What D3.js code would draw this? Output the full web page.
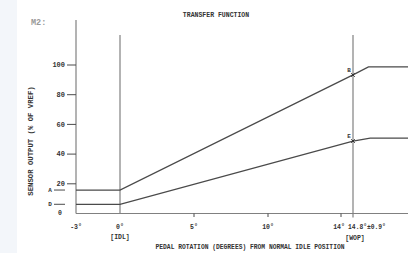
<!DOCTYPE html>
<html><head><meta charset="utf-8">
<script src="https://cdn.jsdelivr.net/npm/d3@7"></script>
<style>
html,body{margin:0;padding:0;background:#fff;}
svg{display:block;}
text{font-family:"Liberation Mono","DejaVu Sans Mono",monospace;fill:#333;}
</style></head>
<body>
<script>
// ---- data ----
const xTickValues = [-3, 0, 5, 10, 14];
const xTickLabels = ["-3°", "0°", "5°", "10°", "14°"];
const yTickValues = [20, 40, 60, 80, 100];
const yTickLabels = ["20", "40", "60", "80", "100"];
const wopAngle = 14.8;
const upperX = [-3, 0, 14.8, 15.7, 18];
const upperY = [15.8, 15.8, 93.3, 98.7, 98.7];
const lowerX = [-3, 0, 14.8, 15.8, 18];
const lowerY = [6.2, 6.2, 48.8, 50.8, 50.8];
const pointLabels = ["B", "E"];
const pointValues = [93.3, 48.8];
const levelLabels = ["A", "D"];
const levelValues = [15.8, 6.2];

const W = 408, H = 253;
const svg = d3.select("body").append("svg").attr("width", W).attr("height", H);

// left band
svg.append("rect").attr("x",0).attr("y",0).attr("width",17).attr("height",H).attr("fill","#f3f6fa");

// scales (drawing is not to scale: piecewise linear)
const x = d3.scaleLinear().domain([-3, 0, 10, 14, 14.8, 18]).range([76, 120, 268, 341, 353, 408]);
const y = d3.scaleLinear().domain([0, 100]).range([213.5, 65]);

const axisCol = "#808080", lineCol = "#4a4a4a";

// x axis line
svg.append("line").attr("x1", x(-3)).attr("x2", W).attr("y1", y(0)).attr("y2", y(0))
  .attr("stroke", axisCol).attr("stroke-width", 1.2);
// y axis line
svg.append("line").attr("x1", x(-3)).attr("x2", x(-3)).attr("y1", 20).attr("y2", y(0))
  .attr("stroke", axisCol).attr("stroke-width", 1.2);
// 0 deg line
svg.append("line").attr("x1", x(0)).attr("x2", x(0)).attr("y1", 35).attr("y2", y(0))
  .attr("stroke", axisCol).attr("stroke-width", 1.2);
// WOP line
svg.append("line").attr("x1", x(wopAngle)).attr("x2", x(wopAngle)).attr("y1", 35).attr("y2", y(0)+4)
  .attr("stroke", axisCol).attr("stroke-width", 1.2);

const fw = "bold";
// y ticks
const yg = svg.append("g");
yTickValues.forEach((v,i)=>{
  yg.append("line").attr("x1", x(-3)-9).attr("x2", x(-3)).attr("y1", y(v)).attr("y2", y(v))
    .attr("stroke", lineCol).attr("stroke-width", 1);
  yg.append("text").attr("x", x(-3)-11).attr("y", y(v)+2.3).attr("text-anchor","end")
    .attr("font-size", 7).attr("font-weight", fw).text(yTickLabels[i]);
});
svg.append("text").attr("x", 60).attr("y", y(0)+1.5).attr("text-anchor","middle").attr("font-size",6.5).attr("font-weight", fw).text("0");
levelValues.forEach((v,i)=>{
  svg.append("line").attr("x1", 54).attr("x2", 65).attr("y1", y(v)).attr("y2", y(v))
    .attr("stroke", lineCol).attr("stroke-width", 1);
  svg.append("text").attr("x", 50).attr("y", y(v)+2.2).attr("text-anchor","middle").attr("font-size",6).attr("font-weight", fw).text(levelLabels[i]);
});

// x ticks
xTickValues.forEach((v,i)=>{
  if (v > 0) svg.append("line").attr("x1", x(v)).attr("x2", x(v)).attr("y1", y(0)).attr("y2", y(0)+3.5)
    .attr("stroke", lineCol).attr("stroke-width", 1);
  svg.append("text").attr("x", v === 14 ? x(v)-2 : x(v)).attr("y", 229).attr("text-anchor","middle").attr("font-size",6.5).attr("font-weight", fw).text(xTickLabels[i]);
});
svg.append("text").attr("x", x(0)).attr("y", 239).attr("text-anchor","middle").attr("font-size",6.5).attr("font-weight", fw).text("[IDL]");
svg.append("text").attr("x", 367).attr("y", 229).attr("text-anchor","middle").attr("font-size",6.3).attr("font-weight", fw).text("14.8°±0.9°");
svg.append("text").attr("x", 355).attr("y", 240).attr("text-anchor","middle").attr("font-size",6.5).attr("font-weight", fw).text("[WOP]");

// lines
const line = d3.line().x(d=>x(d[0])).y(d=>y(d[1]));
[[upperX, upperY],[lowerX, lowerY]].forEach(([xs, ys])=>{
  svg.append("path").datum(xs.map((v,i)=>[v, ys[i]])).attr("d", line)
    .attr("fill","none").attr("stroke", lineCol).attr("stroke-width", 1.3);
});

// point markers
pointValues.forEach((v,i)=>{
  const cx = x(wopAngle), cy = y(v);
  svg.append("path").attr("d", `M${cx-1.8},${cy-1.8}L${cx+1.8},${cy+1.8}M${cx-1.8},${cy+1.8}L${cx+1.8},${cy-1.8}`)
    .attr("stroke","#333").attr("stroke-width",1);
  svg.append("text").attr("x", cx-4).attr("y", cy-3).attr("text-anchor","middle").attr("font-size",6).attr("font-weight", fw).text(pointLabels[i]);
});

// titles
svg.append("text").attr("x", 216).attr("y", 17).attr("text-anchor","middle").attr("font-size",6.5).attr("font-weight", fw).text("TRANSFER FUNCTION");
svg.append("text").attr("x", 250).attr("y", 249).attr("text-anchor","middle").attr("font-size",6.3).attr("font-weight", fw).text("PEDAL ROTATION (DEGREES) FROM NORMAL IDLE POSITION");
svg.append("text").attr("transform","translate(33,141) rotate(-90)").attr("text-anchor","middle").attr("font-size",7.3).attr("font-weight", fw).text("SENSOR OUTPUT (% OF VREF)");
svg.append("text").attr("x", 31).attr("y", 25).attr("font-size",8.5).attr("font-weight", fw).style("fill","#999").text("M2:");
</script>
</body></html>
